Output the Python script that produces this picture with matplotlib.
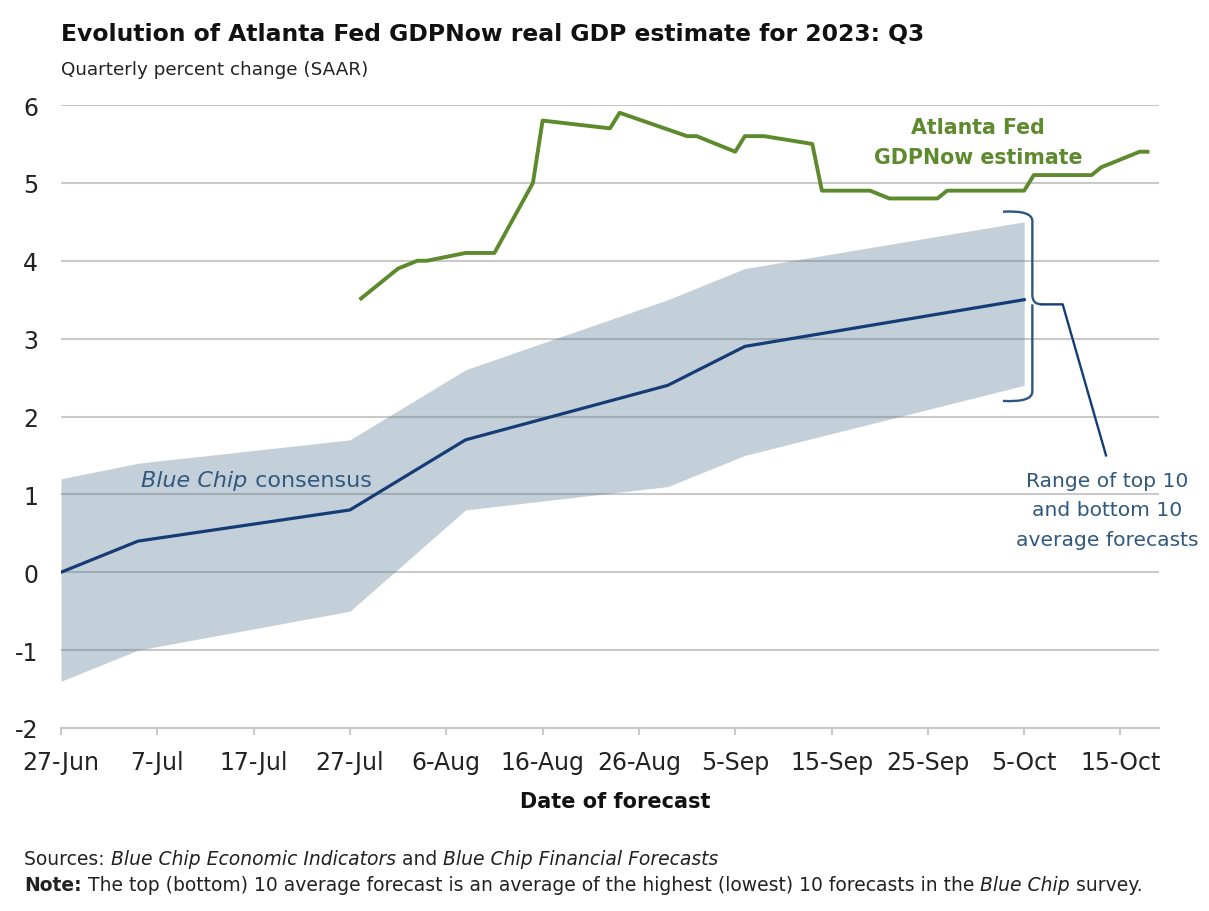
import matplotlib
matplotlib.use('Agg')
import matplotlib.pyplot as plt
import matplotlib.dates as mdates
import matplotlib.transforms as mtransforms
from matplotlib.path import Path
from matplotlib.patches import PathPatch
from datetime import datetime, timedelta

plt.rcParams['font.family'] = ['DejaVu Sans']
plt.rcParams['axes.unicode_minus'] = False

# ---------------- data ----------------
gdpnow_dates = ['2023-07-28', '2023-08-01', '2023-08-03', '2023-08-04', '2023-08-08',
                '2023-08-11', '2023-08-15', '2023-08-16', '2023-08-23', '2023-08-24',
                '2023-08-31', '2023-09-01', '2023-09-05', '2023-09-06', '2023-09-08',
                '2023-09-13', '2023-09-14', '2023-09-19', '2023-09-21', '2023-09-26',
                '2023-09-27', '2023-10-05', '2023-10-06', '2023-10-12', '2023-10-13',
                '2023-10-17', '2023-10-18']
gdpnow_values = [3.5, 3.9, 4.0, 4.0, 4.1,
                 4.1, 5.0, 5.8, 5.7, 5.9,
                 5.6, 5.6, 5.4, 5.6, 5.6,
                 5.5, 4.9, 4.9, 4.8, 4.8,
                 4.9, 4.9, 5.1, 5.1, 5.2,
                 5.4, 5.4]

bluechip_dates = ['2023-06-27', '2023-07-05', '2023-07-27', '2023-08-08',
                  '2023-08-29', '2023-09-06', '2023-10-05']
bluechip_consensus = [0.0, 0.4, 0.8, 1.7, 2.4, 2.9, 3.5]
bluechip_top10 = [1.2, 1.4, 1.7, 2.6, 3.5, 3.9, 4.5]
bluechip_bottom10 = [-1.4, -1.0, -0.5, 0.8, 1.1, 1.5, 2.4]

x_tick_dates = ['2023-06-27', '2023-07-07', '2023-07-17', '2023-07-27', '2023-08-06',
                '2023-08-16', '2023-08-26', '2023-09-05', '2023-09-15', '2023-09-25',
                '2023-10-05', '2023-10-15']
x_tick_labels = ['27-Jun', '7-Jul', '17-Jul', '27-Jul', '6-Aug', '16-Aug', '26-Aug',
                 '5-Sep', '15-Sep', '25-Sep', '5-Oct', '15-Oct']
y_ticks = [-2, -1, 0, 1, 2, 3, 4, 5, 6]
x_range = ['2023-06-27', '2023-10-19']

title = 'Evolution of Atlanta Fed GDPNow real GDP estimate for 2023: Q3'
subtitle = 'Quarterly percent change (SAAR)'
xlabel = 'Date of forecast'

# ---------------- styling ----------------
GREEN = '#5e8a2e'
NAVY = '#163c76'
STEEL = '#31597f'
GRID = '#c9c9c9'
BAND = (0.30, 0.45, 0.55)

W, H = 1209, 912
fig = plt.figure(figsize=(W / 100, H / 100), dpi=100)
fig.patch.set_facecolor('white')

def to_dt(s):
    return datetime.strptime(s, '%Y-%m-%d')

gd = [to_dt(s) for s in gdpnow_dates]
bd = [to_dt(s) for s in bluechip_dates]

left, right, top, bottom = 61, 1159, 106, 729
ax = fig.add_axes([left / W, 1 - bottom / H, (right - left) / W, (bottom - top) / H])
ax.set_facecolor('white')

ax.set_xlim(to_dt(x_range[0]), to_dt(x_range[1]))
ax.set_ylim(y_ticks[0], y_ticks[-1])

for s in ['left', 'right', 'top']:
    ax.spines[s].set_visible(False)
ax.spines['bottom'].set_color(GRID)
ax.spines['bottom'].set_linewidth(1.6)
ax.spines['bottom'].set_zorder(0.5)

ax.set_yticks(y_ticks)
ax.set_yticklabels([str(v) for v in y_ticks])
ax.yaxis.grid(True, color=GRID, linewidth=1.5, zorder=0)
ax.set_axisbelow(True)
ax.tick_params(axis='y', length=0, pad=16.5, labelsize=17, labelcolor='#222222')

ax.set_xticks([to_dt(s) for s in x_tick_dates])
ax.set_xticklabels(x_tick_labels)
ax.tick_params(axis='x', length=5, width=1.5, color=GRID, direction='out', pad=11,
               labelsize=17, labelcolor='#222222')

# band
ax.fill_between(bd, bluechip_bottom10, bluechip_top10, color=BAND, alpha=0.33,
                linewidth=0, zorder=1)
# consensus line
ax.plot(bd, bluechip_consensus, color=NAVY, linewidth=2.3, zorder=3,
        solid_joinstyle='round')
# GDPNow line
ax.plot(gd, gdpnow_values, color=GREEN, linewidth=2.8, zorder=4,
        solid_joinstyle='round', solid_capstyle='butt')

# ---------------- bracket annotation ----------------
end_d = bd[-1]
def dd(days):
    return mdates.date2num(end_d + timedelta(days=days))

y_top = bluechip_top10[-1] + 0.13
y_bot = bluechip_bottom10[-1] - 0.2
y_mid = bluechip_consensus[-1] - 0.06
xl, xv, xm = dd(-2.2), dd(0.85), dd(1.8)
verts = [
    (xl, y_top), (xv, y_top + 0.02), (xv, y_top - 0.12),
    (xv, y_mid + 0.12),
    (xv, y_mid), (xm, y_mid),
    (xv, y_mid), (xv, y_mid - 0.12),
    (xv, y_bot + 0.12),
    (xv, y_bot - 0.02), (xl, y_bot),
]
codes = [Path.MOVETO, Path.CURVE3, Path.CURVE3,
         Path.LINETO,
         Path.CURVE3, Path.CURVE3,
         Path.MOVETO, Path.CURVE3,
         Path.LINETO,
         Path.CURVE3, Path.CURVE3]
ax.add_patch(PathPatch(Path(verts, codes), facecolor='none', edgecolor='#2c5680',
                       linewidth=1.7, zorder=5, capstyle='butt'))
ax.plot([xm, dd(4.0), dd(8.5)], [y_mid, y_mid, 1.5], color=NAVY, linewidth=1.7,
        zorder=5)

ax.text(dd(8.6), 0.80, 'Range of top 10\nand bottom 10\naverage forecasts',
        ha='center', va='center', fontsize=14.6, color=STEEL, linespacing=1.68, zorder=6)

ax.text(mdates.date2num(datetime(2023, 9, 30, 5)), 5.53, 'Atlanta Fed\nGDPNow estimate',
        ha='center', va='center', fontsize=14.8, fontweight='bold', color=GREEN,
        linespacing=1.62, zorder=6)

# Blue Chip consensus label (mixed style)
fig.canvas.draw()
renderer = fig.canvas.get_renderer()
bc_x = mdates.date2num(datetime(2023, 7, 5, 8))
t1 = ax.text(bc_x, 1.19, 'Blue Chip', style='italic', fontsize=16, color=STEEL,
             ha='left', va='center', zorder=6)
w1 = t1.get_window_extent(renderer).width
ax.text(bc_x, 1.19, ' consensus', fontsize=16, color=STEEL, ha='left', va='center', zorder=6,
        transform=mtransforms.offset_copy(ax.transData, fig=fig, x=w1, y=0, units='dots'))

# ---------------- titles & footnotes ----------------
fig.text(61 / W, 1 - 41.5 / H, title, fontsize=16.9, fontweight='bold', color='#111111',
         ha='left', va='baseline')
fig.text(61 / W, 1 - 75 / H, subtitle, fontsize=13.2, color='#222222',
         ha='left', va='baseline')
fig.text((left + right) / 2 / W + 0.004, 1 - 802 / H, xlabel, fontsize=15, fontweight='bold',
         color='#111111', ha='center', va='center')

def rich_line(x_px, y_px, pieces, size):
    x = x_px
    for txt, kw in pieces:
        t = fig.text(x / W, 1 - y_px / H, txt, fontsize=size, color='#222222',
                     ha='left', va='baseline', **kw)
        x += t.get_window_extent(renderer).width

rich_line(24, 865, [('Sources: ', {}),
                    ('Blue Chip Economic Indicators', {'style': 'italic'}),
                    (' and ', {}),
                    ('Blue Chip Financial Forecasts', {'style': 'italic'})], 13.5)
rich_line(24, 891, [('Note:', {'fontweight': 'bold'}),
                    (' The top (bottom) 10 average forecast is an average of the highest (lowest) 10 forecasts in the ', {}),
                    ('Blue Chip', {'style': 'italic'}),
                    (' survey.', {})], 13.5)

fig.savefig('out.png', dpi=100, facecolor='white')
